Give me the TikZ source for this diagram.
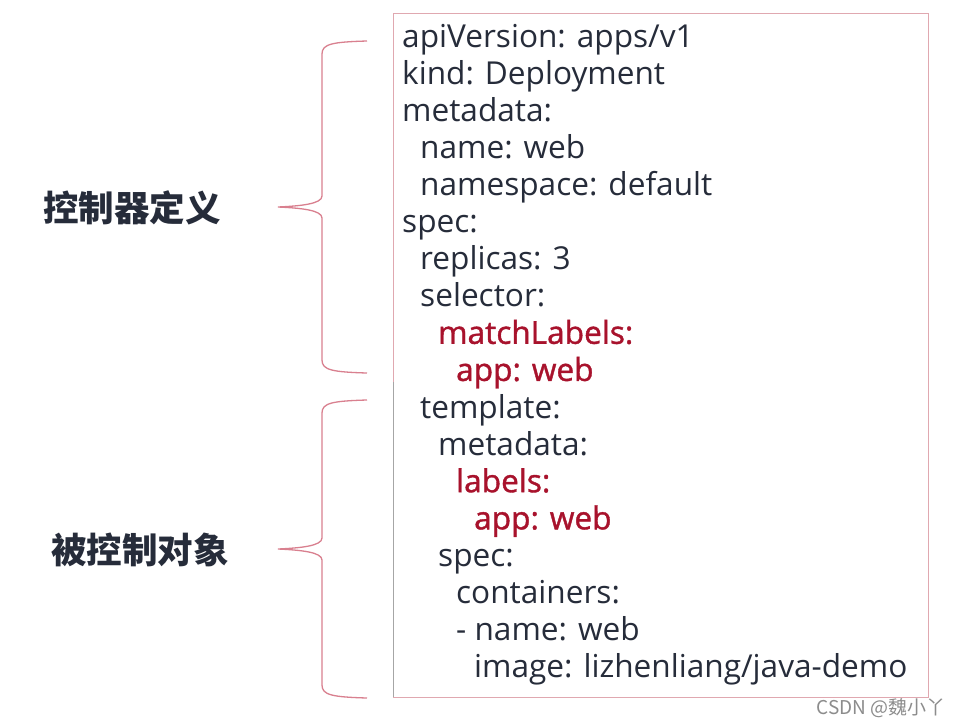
\documentclass[tikz,border=0pt]{standalone}
\usepackage{fontspec}
\setmainfont{Open Sans}
\newfontfamily\cjk{Noto Sans CJK SC}
\newfontfamily\redfont[FakeBold=1.2]{Open Sans}
\definecolor{txt}{HTML}{262C3A}
\definecolor{redtxt}{HTML}{A8122C}
\definecolor{bracec}{HTML}{D9808F}
\definecolor{boxc}{HTML}{E0A8B0}
\definecolor{wm}{HTML}{8C8C8C}
\tikzset{
  yl/.style={anchor=base west, inner sep=0pt, text=txt, font=\fontsize{31.6}{31.6}\selectfont},
  yr/.style={anchor=base west, inner sep=0pt, text=redtxt, font=\fontsize{31.6}{31.6}\selectfont\redfont},
  lab/.style={inner sep=0pt, text=txt, font=\fontsize{35.5}{35.5}\selectfont\cjk\bfseries},
  bracestyle/.style={draw=bracec, line width=1.3pt},
}
\begin{document}
\begin{tikzpicture}[x=1pt,y=-1pt]
\fill[white] (0,0) rectangle (960,726);
\useasboundingbox (0,0) rectangle (960,726);
% box
\draw[boxc, line width=1pt] (393,13) rectangle (928,697);
\draw[gray!70, line width=1pt] (393,382) -- (393,697);
% yaml lines
\node[yl] (l1)  at (402, 47.0) {apiVersion: apps/v1};
\node[yl] (l2)  at (402, 84.1) {kind: Deployment};
\node[yl] (l3)  at (402,121.2) {metadata:};
\node[yl] (l4)  at (420,158.3) {name: web};
\node[yl] (l5)  at (420,195.4) {namespace: default};
\node[yl] (l6)  at (402,232.5) {spec:};
\node[yl] (l7)  at (420,269.6) {replicas: 3};
\node[yl] (l8)  at (420,306.7) {selector:};
\node[yr] (l9)  at (438,343.8) {matchLabels:};
\node[yr] (l10) at (456,380.9) {app: web};
\node[yl] (l11) at (420,418.0) {template:};
\node[yl] (l12) at (438,455.1) {metadata:};
\node[yr] (l13) at (456,492.2) {labels:};
\node[yr] (l14) at (474,529.3) {app: web};
\node[yl] (l15) at (438,566.4) {spec:};
\node[yl] (l16) at (456,603.5) {containers:};
\node[yl] (l17) at (456,640.6) {- name: web};
\node[yl] (l18) at (474,677.7) {image: lizhenliang/java-demo};
% braces
\draw[bracestyle] (367,41) .. controls (332,42) and (322,44) .. (322,54)
  -- (322,196) .. controls (322,204) and (300,206) .. (278,207)
  .. controls (300,208) and (322,210) .. (322,218)
  -- (322,360) .. controls (322,370) and (332,372) .. (367,373);
\draw[bracestyle] (367,400) .. controls (332,401) and (322,403) .. (322,413)
  -- (322,538) .. controls (322,546) and (300,548) .. (278,549)
  .. controls (300,550) and (322,552) .. (322,560)
  -- (322,685) .. controls (322,695) and (332,697) .. (367,698);
% labels
\node[lab] (c1) at (132,208) {控制器定义};
\node[lab] (c2) at (140,550) {被控制对象};
% watermark
\node[anchor=east, inner sep=0pt, text=wm, font=\fontsize{19}{19}\selectfont\cjk] (wm) at (946,708) {CSDN @魏小丫};
\end{tikzpicture}
\end{document}
